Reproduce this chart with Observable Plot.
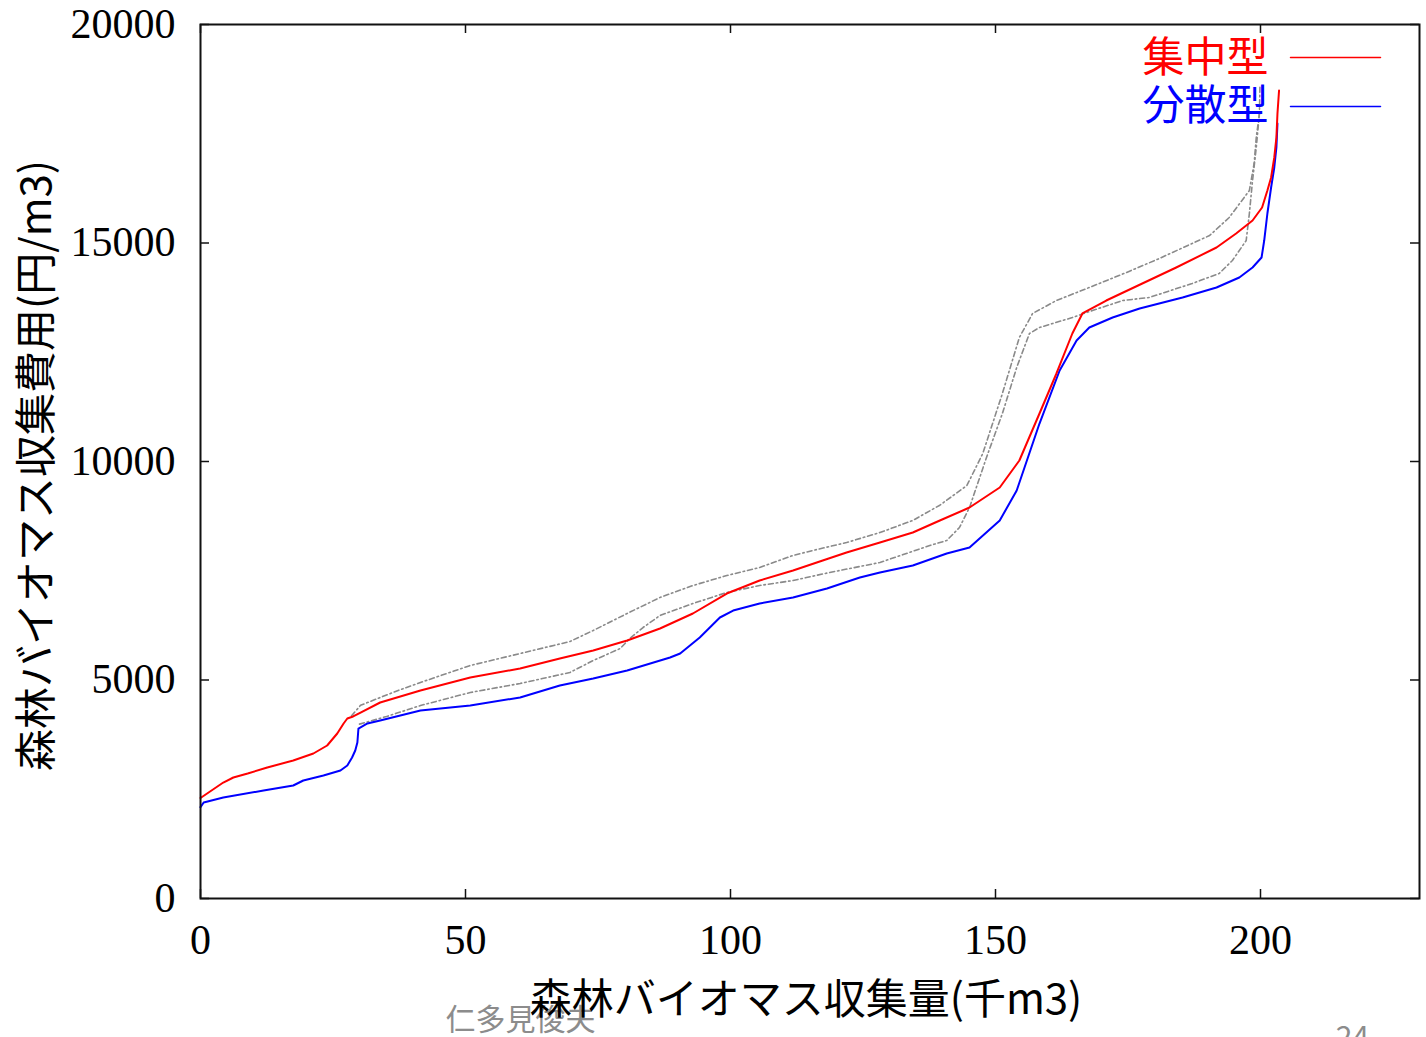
<!DOCTYPE html>
<html><head><meta charset="utf-8">
<script src="https://cdn.jsdelivr.net/npm/d3@7"></script>
<script src="https://cdn.jsdelivr.net/npm/@observablehq/plot@0.6"></script>
<style>
html,body{margin:0;padding:0;background:#fff;}
#chart{width:1426px;height:1037px;overflow:hidden;}
</style>
</head><body><div id="chart"></div>
<script>
// ---- data ----
const xTicks = [0, 50, 100, 150, 200];
const yTicks = [0, 5000, 10000, 15000, 20000];
const seriesNames = ["集中型", "分散型"];
const seriesColors = ["#ff0000", "#0000ff"];
const xLabel = "森林バイオマス収集量(千m3)";
const yLabel = "森林バイオマス収集費用(円/m3)";
const author = "仁多見俊夫";
const pageNo = "24";

// 集中型 (red)
const redX = [0, 4.3, 6.2, 8.9, 12.6, 17.5, 21.3, 23.9, 25.8, 27.0, 27.7, 28.8, 30.2, 33.9, 41.5, 50.9, 60.3, 67.8, 74.1, 80.5, 86.7, 92.9, 99.3, 105.5, 111.8, 117.4, 121.9, 128.2, 134.4, 139.5, 145.1, 150.8, 154.5, 158.3, 161.5, 164.5, 166.4, 170.9, 177.7, 184.1, 191.7, 195.4, 198.5, 200.3, 201.3, 202.0, 202.6, 203.0, 203.2, 203.5];
const redY = [2300, 2654, 2769, 2860, 2998, 3158, 3318, 3501, 3776, 4005, 4119, 4165, 4256, 4485, 4760, 5057, 5263, 5492, 5675, 5904, 6178, 6522, 6979, 7277, 7506, 7734, 7918, 8146, 8375, 8650, 8947, 9405, 10023, 11098, 12014, 12929, 13387, 13684, 14073, 14439, 14897, 15217, 15515, 15812, 16201, 16499, 16957, 17414, 17963, 18490];

// 分散型 (blue)
const blueX = [0, 0.6, 4.3, 11.9, 17.5, 19.4, 23.2, 26.4, 27.7, 28.6, 29.2, 29.6, 29.8, 31.5, 33.9, 41.5, 50.9, 60.3, 67.8, 74.1, 80.5, 88.6, 90.5, 94.2, 96.1, 98.0, 100.5, 105.5, 111.8, 118.2, 124.4, 128.2, 134.4, 140.8, 145.1, 150.8, 154.0, 158.3, 162.1, 165.3, 167.7, 172.1, 177.2, 185.3, 191.7, 196.0, 198.5, 200.2, 200.7, 201.3, 202.0, 202.6, 203.0, 203.2];
const blueY = [2090, 2197, 2311, 2471, 2586, 2700, 2815, 2929, 3043, 3227, 3387, 3570, 3890, 4005, 4073, 4302, 4416, 4600, 4874, 5034, 5217, 5515, 5606, 5973, 6201, 6430, 6590, 6750, 6888, 7094, 7346, 7460, 7620, 7895, 8032, 8650, 9336, 10869, 12082, 12769, 13066, 13295, 13501, 13753, 13982, 14211, 14439, 14668, 15057, 15675, 16270, 16728, 17185, 17735];

// grey dash-dot reference curves
const greyUpperX = [28.5, 30.2, 33.9, 37.7, 41.5, 50.9, 60.3, 69.7, 74.1, 80.5, 86.7, 92.9, 99.3, 105.5, 111.8, 115.5, 121.9, 128.2, 134.4, 139.5, 144.6, 147.6, 151.3, 154.5, 157.0, 161.5, 167.7, 174.7, 180.9, 187.1, 190.4, 194.1, 197.9, 198.8, 199.2, 199.8, 199.9];
const greyUpperY = [4180, 4420, 4600, 4780, 4943, 5332, 5606, 5880, 6133, 6522, 6888, 7162, 7391, 7574, 7850, 7963, 8146, 8375, 8650, 9000, 9450, 10183, 11556, 12838, 13387, 13684, 13982, 14325, 14645, 14989, 15172, 15584, 16201, 16819, 17414, 17963, 18600];
const greyLowerX = [30.0, 35.1, 41.5, 50.9, 60.3, 69.7, 74.1, 79.2, 81.0, 83.5, 86.7, 92.9, 99.3, 105.5, 111.8, 118.7, 128.2, 137.6, 140.8, 143.2, 145.1, 148.3, 151.3, 154.0, 156.4, 158.3, 164.5, 168.3, 174.0, 179.0, 187.1, 192.2, 194.7, 197.3, 197.9, 198.5, 199.2, 199.8];
const greyLowerY = [3990, 4165, 4416, 4714, 4920, 5172, 5446, 5721, 5950, 6201, 6476, 6750, 7002, 7162, 7277, 7460, 7689, 8078, 8192, 8490, 8947, 10092, 11098, 12151, 12929, 13066, 13295, 13455, 13684, 13753, 14073, 14302, 14600, 15057, 15675, 16430, 17185, 17963];

const rows = (xs, ys) => xs.map((x, i) => ({x, y: ys[i]}));

// ---- layout ----
const W = 1426, H = 1037;
const mL = 200, mR = 7, mT = 24, mB = 139;
const frameW = W - mL - mR, frameH = H - mT - mB;
const tickLen = 9;
const serif = "'Liberation Serif', 'DejaVu Serif', serif";
const cjk = "'Noto Sans CJK JP', 'Noto Sans', sans-serif";
const hline = {draw(ctx, l) { ctx.moveTo(0, 0); ctx.lineTo(0, -l); }};

const chart = Plot.plot({
  width: W, height: H,
  marginLeft: mL, marginRight: mR, marginTop: mT, marginBottom: mB,
  x: {domain: [0, 230]},
  y: {domain: [0, 20000]},
  style: {fontFamily: serif, background: "#fff", color: "#000"},
  marks: [
    // footer texts (behind)
    Plot.text([author], {frameAnchor: "bottom-left", text: d => d, dx: 245, dy: 122, textAnchor: "start", lineAnchor: "middle", fontSize: 30, fill: "#8c8c8c", fontFamily: cjk}),
    Plot.text([pageNo], {frameAnchor: "bottom-right", text: d => d, dx: -67, dy: 140, textAnchor: "middle", lineAnchor: "middle", fontSize: 30, fill: "#8c8c8c", fontFamily: cjk}),
    // inward ticks, all four sides
    Plot.tickX(xTicks, {x: d => d, insetTop: frameH - tickLen, stroke: "#111", strokeWidth: 1.5}),
    Plot.tickX(xTicks, {x: d => d, insetBottom: frameH - tickLen, stroke: "#111", strokeWidth: 1.5}),
    Plot.tickY(yTicks, {y: d => d, insetRight: frameW - tickLen, stroke: "#111", strokeWidth: 1.5}),
    Plot.tickY(yTicks, {y: d => d, insetLeft: frameW - tickLen, stroke: "#111", strokeWidth: 1.5}),
    // tick labels
    Plot.axisX({ticks: xTicks, tickSize: 0, tickPadding: 26, fontSize: 42, fontFamily: serif, label: null, tickFormat: d => String(d)}),
    Plot.axisY({ticks: yTicks, tickSize: 0, tickPadding: 25, fontSize: 42, fontFamily: serif, label: null, tickFormat: d => String(d)}),
    // axis titles
    Plot.text([xLabel], {frameAnchor: "bottom", text: d => d, dx: -4, dy: 102, textAnchor: "middle", lineAnchor: "middle", fontSize: 42, fontFamily: cjk, fill: "#000"}),
    Plot.text([yLabel], {frameAnchor: "left", text: d => d, dx: -163, dy: 4, rotate: -90, textAnchor: "middle", lineAnchor: "middle", fontSize: 42, fontFamily: cjk, fill: "#000"}),
    // grey reference curves
    Plot.line(rows(greyUpperX, greyUpperY), {x: "x", y: "y", stroke: "#8a8a8a", strokeWidth: 1.6, strokeDasharray: "5,3,1.5,3"}),
    Plot.line(rows(greyLowerX, greyLowerY), {x: "x", y: "y", stroke: "#8a8a8a", strokeWidth: 1.6, strokeDasharray: "5,3,1.5,3"}),
    // main series
    Plot.line(rows(blueX, blueY), {x: "x", y: "y", stroke: seriesColors[1], strokeWidth: 2}),
    Plot.line(rows(redX, redY), {x: "x", y: "y", stroke: seriesColors[0], strokeWidth: 2}),
    // legend
    Plot.text([seriesNames[0]], {frameAnchor: "top-right", text: d => d, dx: -151, dy: 34, textAnchor: "end", lineAnchor: "middle", fontSize: 42, fontFamily: cjk, fill: seriesColors[0]}),
    Plot.text([seriesNames[1]], {frameAnchor: "top-right", text: d => d, dx: -151, dy: 82, textAnchor: "end", lineAnchor: "middle", fontSize: 42, fontFamily: cjk, fill: seriesColors[1]}),
    Plot.vector([seriesNames[0]], {frameAnchor: "top-right", dx: -39, dy: 33, length: 90, rotate: -90, anchor: "start", shape: hline, stroke: seriesColors[0], strokeWidth: 1.5}),
    Plot.vector([seriesNames[1]], {frameAnchor: "top-right", dx: -39, dy: 82, length: 90, rotate: -90, anchor: "start", shape: hline, stroke: seriesColors[1], strokeWidth: 1.5}),
    // frame
    Plot.frame({stroke: "#111", strokeWidth: 2})
  ]
});
document.getElementById("chart").appendChild(chart);
</script>
</body></html>
